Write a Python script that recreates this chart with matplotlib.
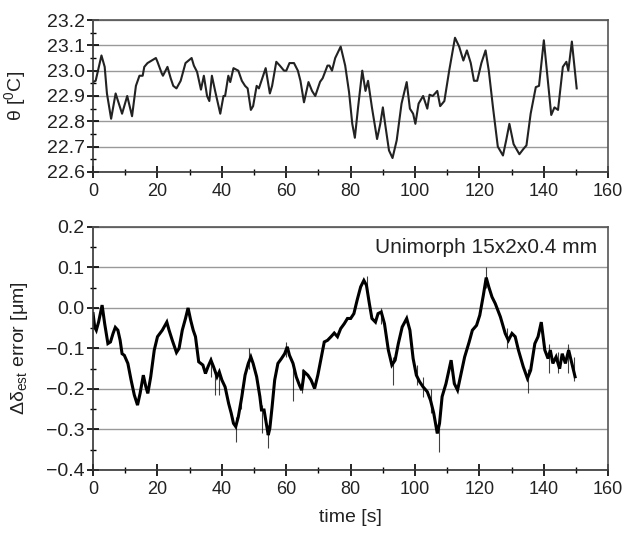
import matplotlib
matplotlib.use('Agg')
import matplotlib.pyplot as plt
from matplotlib.ticker import MultipleLocator

plt.rcParams['font.family'] = ['Liberation Sans', 'DejaVu Sans']
plt.rcParams['mathtext.fontset'] = 'custom'
plt.rcParams['mathtext.rm'] = 'Liberation Sans'
plt.rcParams['mathtext.it'] = 'Liberation Sans:italic'

# temperature trace (top panel)
t_temp = [0.0, 0.8, 2.6, 3.6, 4.3, 5.6, 7.0, 9.0, 10.6, 12.1, 13.3, 14.4, 15.4, 15.9,
          16.9, 19.5, 20.0, 21.3, 21.7, 23.1, 24.1, 24.9, 25.9, 27.2, 28.7, 30.6, 31.3,
          32.3, 33.5, 34.4, 35.4, 36.1, 36.9, 37.9, 39.5, 40.5, 41.0, 42.0, 42.6, 43.6,
          45.1, 46.2, 47.2, 48.0, 49.0, 49.7, 50.8, 51.5, 52.3, 53.6, 54.9, 55.6, 56.9,
          58.0, 59.3, 60.0, 61.0, 62.4, 63.6, 64.4, 65.5, 66.9, 68.0, 69.0, 70.5, 71.3,
          72.8, 73.4, 74.2, 75.2, 76.9, 78.3, 79.5, 80.5, 81.3, 82.3, 83.6, 84.6, 85.4,
          86.6, 88.2, 89.2, 90.0, 90.7, 91.9, 93.0, 94.3, 95.8, 97.4, 98.4, 99.4, 100.1,
          101.1, 102.5, 103.8, 104.5, 105.5, 106.9, 107.8, 109.1, 110.6, 112.4, 113.7,
          115.0, 116.1, 117.3, 118.3, 119.3, 120.6, 121.9, 122.9, 124.2, 125.7, 127.3,
          128.3, 129.3, 130.6, 132.4, 133.6, 134.6, 135.9, 137.5, 138.5, 140.0, 141.0,
          142.3, 143.3, 144.4, 145.9, 147.0, 147.6, 148.7, 150.2]
theta = [22.955, 22.96, 23.06, 23.015, 22.91, 22.81, 22.91, 22.83, 22.90, 22.82, 22.94,
         22.98, 22.98, 23.015, 23.03, 23.05, 23.035, 22.99, 22.98, 23.015, 22.97, 22.94,
         22.93, 22.96, 23.03, 23.05, 23.02, 22.995, 22.925, 22.98, 22.90, 22.88, 22.98,
         22.92, 22.83, 22.90, 22.90, 22.98, 22.955, 23.01, 23.0, 22.96, 22.94, 22.93,
         22.845, 22.86, 22.94, 22.93, 22.96, 23.01, 22.91, 22.94, 23.035, 23.02, 23.0,
         23.0, 23.03, 23.03, 23.0, 22.96, 22.875, 22.955, 22.92, 22.90, 22.956, 22.97,
         23.02, 23.02, 23.0, 23.05, 23.095, 23.02, 22.915, 22.79, 22.735, 22.855, 23.0,
         22.92, 22.96, 22.855, 22.73, 22.79, 22.855, 22.79, 22.685, 22.655, 22.725,
         22.87, 22.955, 22.85, 22.83, 22.79, 22.87, 22.90, 22.85, 22.905, 22.90, 22.92,
         22.86, 22.88, 23.0, 23.13, 23.095, 23.04, 23.08, 23.03, 22.96, 22.96, 23.03,
         23.08, 23.0, 22.855, 22.70, 22.665, 22.725, 22.79, 22.71, 22.67, 22.69, 22.705,
         22.83, 22.935, 22.94, 23.12, 22.99, 22.825, 22.855, 22.845, 23.015, 23.035,
         23.0, 23.115, 22.93]

# estimation error trace (bottom panel)
t_err = [0.0, 0.5, 1.0, 1.7, 2.8, 3.6, 4.6, 5.4, 6.2, 6.9, 7.7, 8.4, 9.0, 9.7, 10.8,
         11.8, 12.8, 13.8, 14.6, 15.6, 16.4, 17.0, 17.9, 19.0, 20.0, 21.5, 22.9, 23.6,
         24.6, 25.9, 26.7, 27.7, 28.7, 29.5, 30.3, 31.1, 31.8, 32.8, 34.1, 34.9, 35.7,
         36.6, 37.4, 38.5, 39.2, 40.0, 41.0, 42.1, 42.9, 43.6, 44.3, 45.1, 46.2, 47.2,
         48.2, 49.0, 49.7, 50.8, 51.8, 52.3, 53.1, 53.8, 54.4, 54.9, 55.6, 56.4, 57.4,
         58.5, 59.5, 60.3, 61.0, 62.1, 63.1, 64.1, 64.8, 65.6, 66.7, 67.7, 68.8, 69.8,
         70.8, 71.8, 72.8, 73.9, 74.9, 75.9, 76.9, 78.0, 79.0, 80.0, 81.0, 82.0, 83.1,
         84.1, 84.9, 85.8, 86.6, 87.7, 88.5, 89.5, 90.5, 91.7, 92.8, 93.8, 94.8, 96.0,
         97.4, 98.4, 99.4, 100.4, 101.4, 102.5, 103.8, 104.8, 105.8, 106.9, 107.6, 108.4,
         109.6, 110.4, 111.2, 112.2, 113.2, 114.2, 115.4, 116.8, 117.8, 119.1, 120.1,
         121.2, 122.1, 122.9, 123.9, 124.9, 126.5, 128.0, 129.0, 130.1, 131.1, 132.1,
         133.6, 134.9, 135.9, 137.2, 138.2, 139.2, 140.3, 141.3, 142.0, 142.8, 143.8,
         144.9, 145.7, 146.7, 147.7, 148.7, 149.7]
err = [-0.014, -0.047, -0.055, -0.035, 0.007, -0.039, -0.088, -0.084, -0.063, -0.048,
       -0.055, -0.08, -0.113, -0.117, -0.137, -0.178, -0.215, -0.24, -0.211, -0.166,
       -0.195, -0.211, -0.17, -0.104, -0.071, -0.055, -0.035, -0.055, -0.08, -0.11,
       -0.10, -0.055, -0.026, 0.0, -0.03, -0.055, -0.071, -0.133, -0.141, -0.162, -0.145,
       -0.129, -0.145, -0.17, -0.158, -0.178, -0.195, -0.236, -0.26, -0.285, -0.293,
       -0.269, -0.219, -0.166, -0.137, -0.121, -0.137, -0.17, -0.219, -0.252, -0.252,
       -0.285, -0.314, -0.297, -0.244, -0.178, -0.137, -0.125, -0.113, -0.096, -0.117,
       -0.137, -0.17, -0.191, -0.203, -0.158, -0.166, -0.178, -0.199, -0.166, -0.125,
       -0.084, -0.08, -0.071, -0.062, -0.071, -0.051, -0.039, -0.026, -0.026, -0.014,
       0.019, 0.052, 0.068, 0.056, 0.011, -0.026, -0.035, -0.014, -0.01, -0.039, -0.104,
       -0.141, -0.129, -0.088, -0.047, -0.026, -0.055, -0.125, -0.166, -0.182, -0.195,
       -0.207, -0.228, -0.26, -0.31, -0.285, -0.219, -0.187, -0.158, -0.129, -0.187,
       -0.203, -0.166, -0.121, -0.084, -0.055, -0.043, -0.018, 0.031, 0.075, 0.052,
       0.027, 0.011, -0.022, -0.063, -0.08, -0.063, -0.071, -0.104, -0.145, -0.174,
       -0.154, -0.088, -0.071, -0.035, -0.104, -0.125, -0.104, -0.137, -0.121, -0.15,
       -0.113, -0.137, -0.104, -0.137, -0.17]

# visible noise spikes: time, low, high
spike_t = [36.5, 38.0, 39.0, 44.3, 46.0, 48.5, 52.5, 54.2, 59.8, 62.0, 65.0, 85.0,
           89.5, 93.0, 100.5, 102.5, 105.0, 107.3, 122.0, 128.5, 135.0, 141.5, 144.5,
           147.5, 149.5]
spike_lo = [-0.17, -0.215, -0.215, -0.33, -0.25, -0.15, -0.31, -0.345, -0.12, -0.23,
            -0.21, 0.04, -0.04, -0.19, -0.19, -0.22, -0.26, -0.355, 0.05, -0.10, -0.21,
            -0.16, -0.16, -0.16, -0.18]
spike_hi = [-0.12, -0.15, -0.15, -0.27, -0.20, -0.10, -0.24, -0.29, -0.085, -0.15,
            -0.15, 0.08, 0.0, -0.12, -0.14, -0.17, -0.20, -0.28, 0.10, -0.05, -0.15,
            -0.09, -0.11, -0.09, -0.12]

fig = plt.figure(figsize=(6.29, 5.34), dpi=100)
ax1 = fig.add_axes([0.148, 0.678, 0.819, 0.2845])
ax2 = fig.add_axes([0.148, 0.120, 0.819, 0.455])

ax1.plot(t_temp, theta, color='#222222', lw=1.5, solid_joinstyle='round')
ax2.plot(t_err, err, color='black', lw=2.2, solid_joinstyle='miter')
ax2.vlines(spike_t, spike_lo, spike_hi, color='black', lw=0.8, alpha=0.75)

for ax in (ax1, ax2):
    ax.set_xlim(0, 160)
    ax.xaxis.set_major_locator(MultipleLocator(20))
    ax.xaxis.set_minor_locator(MultipleLocator(10))
    ax.grid(True, axis='y', color='#999999', lw=1.0)
    ax.set_axisbelow(True)
    ax.tick_params(which='major', direction='inout', length=8, width=1.2,
                   labelsize=14, pad=2, labelcolor='#222222')
    ax.tick_params(axis='x', which='major', pad=4, labelsize=13)
    ax.tick_params(which='minor', direction='inout', length=4, width=1.0)
    for s in ax.spines.values():
        s.set_linewidth(1.2)
        s.set_color('#333333')
    ax.spines['top'].set_color('#555555')
    ax.spines['right'].set_color('#555555')

ax1.set_ylim(22.6, 23.2)
ax1.yaxis.set_major_locator(MultipleLocator(0.1))
ax1.yaxis.set_minor_locator(MultipleLocator(0.05))
ax1.yaxis.set_major_formatter('{x:.1f}')
ax1.set_ylabel('θ [$^{0}$C]', fontsize=14, color='#222222')
ax1.yaxis.set_label_coords(-0.127, 0.5)

ax2.set_ylim(-0.4, 0.2)
ax2.yaxis.set_major_locator(MultipleLocator(0.1))
ax2.yaxis.set_minor_locator(MultipleLocator(0.05))
ax2.yaxis.set_major_formatter('{x:.1f}')
ax2.set_ylabel('Δδ$_{\\rm est}$ error [μm]', fontsize=14, color='#222222')
ax2.yaxis.set_label_coords(-0.122, 0.5)
ax2.set_xlabel('time [s]', fontsize=14, labelpad=8, color='#222222')
ax2.text(0.979, 0.914, 'Unimorph 15x2x0.4 mm', transform=ax2.transAxes,
         ha='right', va='center', fontsize=15, color='#222222')

fig.savefig('out.png', dpi=100)
